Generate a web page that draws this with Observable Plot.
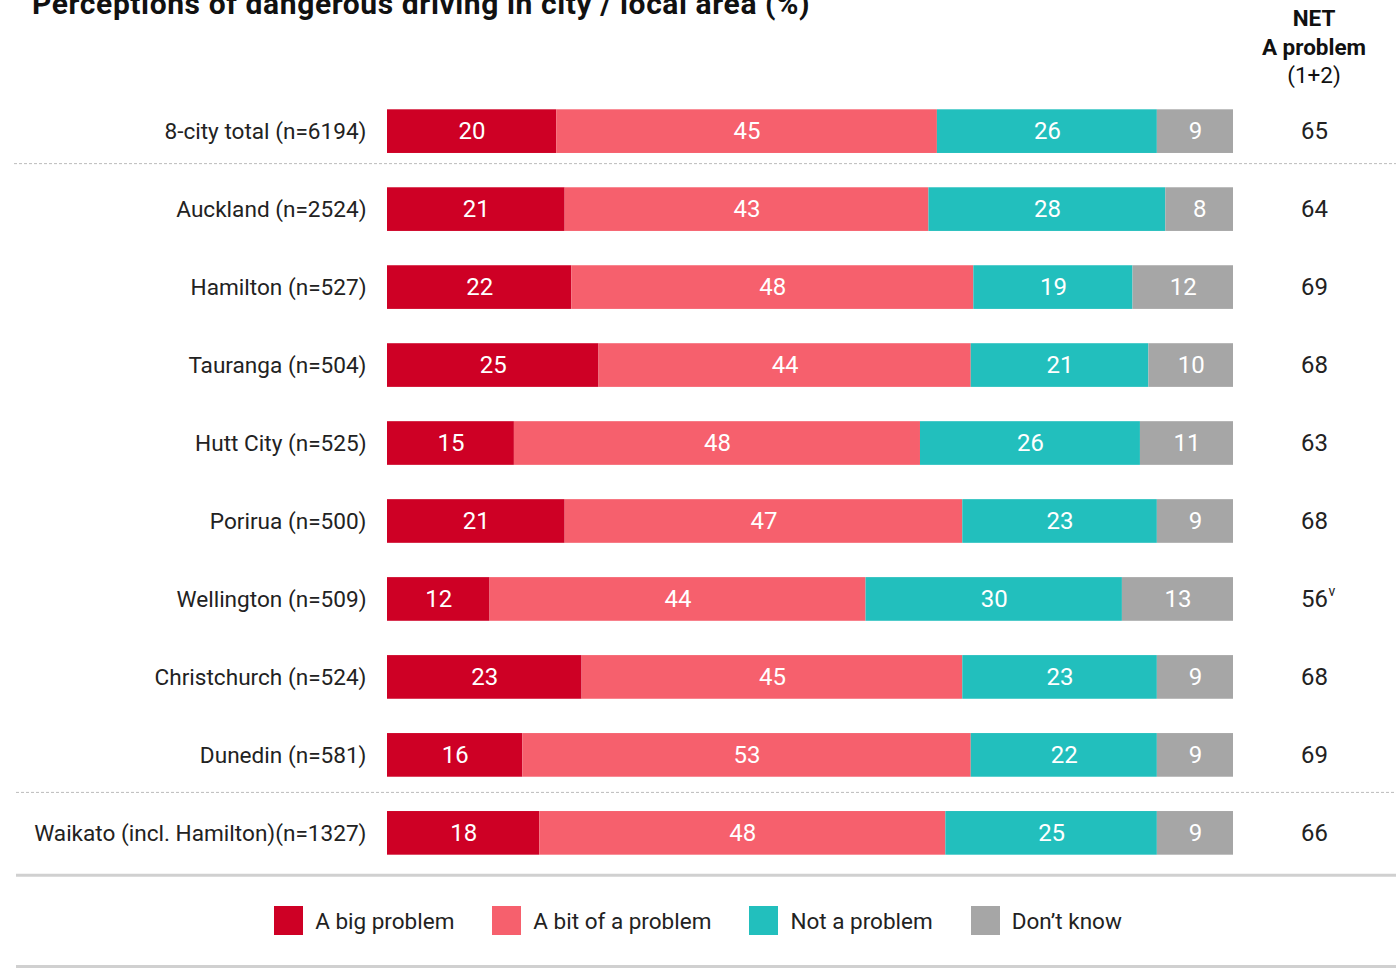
<!DOCTYPE html>
<html>
<head>
<meta charset="utf-8">
<script src="https://cdn.jsdelivr.net/npm/d3@7"></script>
<script src="https://cdn.jsdelivr.net/npm/@observablehq/plot@0.6"></script>
<style>
  html, body { margin: 0; padding: 0; background: #fff; overflow: hidden; }
  body { width: 1396px; height: 969px; position: relative; font-family: Roboto, "Noto Sans", sans-serif; color: #222; }
  #title { position: absolute; left: 32px; top: -14px; font-size: 30px; font-weight: 700; color: #111; letter-spacing: 0.6px; white-space: nowrap; }
  #net { position: absolute; left: 1234px; width: 160px; top: 4px; text-align: center; font-size: 22.5px; line-height: 28.5px; color: #111; }
  #net b { font-weight: 700; }
  #chart { position: absolute; left: 0; top: 0; }
  #legend { position: absolute; left: 0; top: 906px; width: 1396px; display: flex; justify-content: center; font-size: 22.5px; color: #222; }
  .item { display: flex; align-items: center; margin: 0 19px; }
  .sw { width: 29px; height: 29px; margin-right: 12px; }
  #bottomline { position: absolute; left: 16px; right: 0; top: 965px; height: 3px; background: #d0d0d0; }
</style>
</head>
<body>
<div id="title">Perceptions of dangerous driving in city / local area (%)</div>
<div id="net"><b>NET</b><br><b>A problem</b><br>(1+2)</div>
<div id="chart"></div>
<div id="legend"></div>
<div id="bottomline"></div>
<script>
const cities = ["8-city total (n=6194)", "Auckland (n=2524)", "Hamilton (n=527)", "Tauranga (n=504)", "Hutt City (n=525)", "Porirua (n=500)", "Wellington (n=509)", "Christchurch (n=524)", "Dunedin (n=581)", "Waikato (incl. Hamilton)(n=1327)"];
const categories = ["A big problem", "A bit of a problem", "Not a problem", "Don\u2019t know"];
const colors = ["#CE0025", "#F6606D", "#22BFBD", "#A6A6A6"];
const bigProblem = [20, 21, 22, 25, 15, 21, 12, 23, 16, 18];
const bitProblem = [45, 43, 48, 44, 48, 47, 44, 45, 53, 48];
const notProblem = [26, 28, 19, 21, 26, 23, 30, 23, 22, 25];
const dontKnow = [9, 8, 12, 10, 11, 9, 13, 9, 9, 9];
const netProblem = [65, 64, 69, 68, 63, 68, 56, 68, 69, 66];
const netFlags = ["", "", "", "", "", "", "v", "", "", ""];

const series = [bigProblem, bitProblem, notProblem, dontKnow];
const long = [];
cities.forEach((c, i) => categories.forEach((k, j) => long.push({city: c, category: k, value: series[j][i]})));
const netData = cities.map((c, i) => ({city: c, net: netProblem[i], flag: netFlags[i]}));

const stackOpts = {x: "value", y: "city", z: "category", offset: "normalize", order: categories};

const chart = Plot.plot({
  width: 1396,
  height: 900,
  marginTop: 75,
  marginBottom: 11,
  marginLeft: 387,
  marginRight: 163,
  style: {fontFamily: "Roboto, 'Noto Sans', sans-serif", background: "transparent"},
  x: {axis: null, domain: [0, 1]},
  y: {domain: cities, padding: 0.44, round: false, axis: null},
  color: {domain: categories, range: colors},
  marks: [
    Plot.axisY({label: null, tickSize: 0, tickPadding: 21, fontSize: 22.6, fill: "#222"}),
    Plot.barX(long, Plot.stackX({...stackOpts, fill: "category"})),
    Plot.text(long, Plot.stackX({...stackOpts, text: "value", fill: "white", fontSize: 24})),
    Plot.text(netData, {y: "city", text: "net", frameAnchor: "right", textAnchor: "middle", dx: 81, fontSize: 24, fill: "#222"}),
    Plot.text(netData.filter(d => d.flag), {y: "city", text: "flag", frameAnchor: "right", textAnchor: "start", dx: 95, dy: -8, fontSize: 14, fill: "#222"}),
    Plot.ruleY([cities[0]], {dy: 32, stroke: "#bbb", strokeDasharray: "3,2", insetLeft: -373, insetRight: -163}),
    Plot.ruleY([cities[8]], {dy: 37, stroke: "#bbb", strokeDasharray: "3,2", insetLeft: -371, insetRight: -163}),
    Plot.ruleY([cities[9]], {dy: 42, stroke: "#d0d0d0", strokeWidth: 3, insetLeft: -371, insetRight: -163})
  ]
});
document.getElementById("chart").appendChild(chart);

const legend = document.getElementById("legend");
categories.forEach((k, j) => {
  const item = document.createElement("div");
  item.className = "item";
  const sw = document.createElement("div");
  sw.className = "sw";
  sw.style.background = colors[j];
  const lab = document.createElement("span");
  lab.textContent = k;
  item.appendChild(sw);
  item.appendChild(lab);
  legend.appendChild(item);
});
</script>
</body>
</html>
